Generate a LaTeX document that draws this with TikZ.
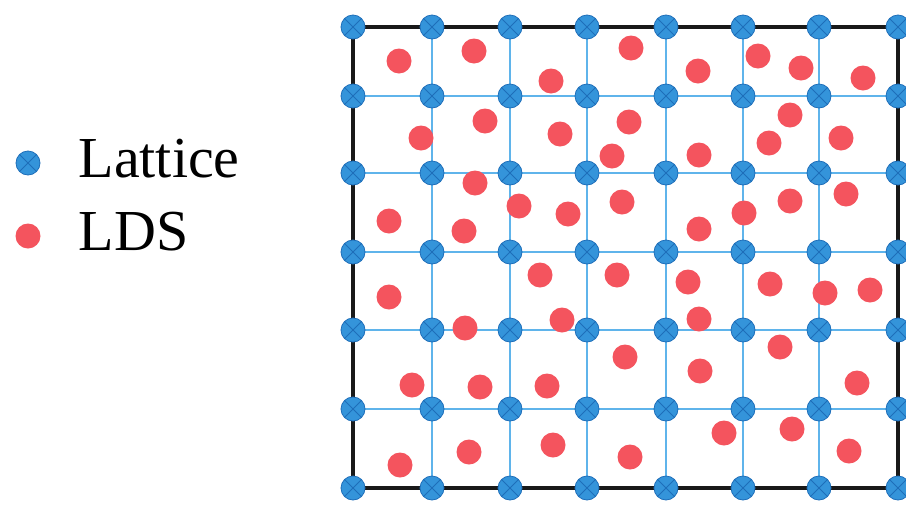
\documentclass[tikz,border=0pt]{standalone}
\usepackage{fontspec}
\setmainfont{Liberation Serif}
\usetikzlibrary{positioning, backgrounds}
\definecolor{latblue}{RGB}{52,148,218}
\definecolor{latedge}{RGB}{30,110,185}
\definecolor{gridblue}{RGB}{95,180,235}
\definecolor{ldsred}{RGB}{244,84,94}
\tikzset{
  latnode/.style={circle, minimum size=24pt, inner sep=0pt, fill=latblue,
    draw=latedge, line width=0.8pt,
    path picture={\draw[latedge, line width=0.9pt]
      (path picture bounding box.north west) -- (path picture bounding box.south east)
      (path picture bounding box.north east) -- (path picture bounding box.south west);}},
  ldsdot/.style={circle, minimum size=25pt, inner sep=0pt, fill=ldsred},
  gridline/.style={gridblue, line width=1.5pt},
  frameline/.style={black!90, line width=3.2pt},
  keytext/.style={font=\fontsize{58}{62}\selectfont, inner sep=0pt, yshift=4pt},
}
\begin{document}
\begin{tikzpicture}[x=1pt, y=-1pt]
  \useasboundingbox (0,0) rectangle (906,504);

  % lattice sites
  \foreach \x [count=\i] in {353,432,510,587,666,743,819,898}
    \foreach \y [count=\j] in {27,96,173,252,330,409,488}
      \node[latnode] (lat-\i-\j) at (\x,\y) {};

  % grid and frame behind the sites
  \begin{scope}[on background layer]
    \foreach \j in {2,...,6}
      \draw[gridline] (lat-1-\j) -- (lat-8-\j);
    \foreach \i in {2,...,7}
      \draw[gridline] (lat-\i-1) -- (lat-\i-7);
    \draw[frameline] (lat-1-1) -- (lat-8-1) -- (lat-8-7) -- (lat-1-7) -- (lat-1-1);
  \end{scope}

  % LDS points
  \foreach \x/\y [count=\k] in {399/61, 474/51, 551/81, 631/48, 698/71, 758/56, 801/68, 863/78,
      421/138, 485/121, 560/134, 629/122, 612/156, 699/155, 769/143, 790/115, 841/138,
      475/183, 389/221, 464/231, 519/206, 568/214, 622/202, 699/229, 744/213, 790/201, 846/194,
      389/297, 540/275, 562/320, 465/328, 617/275, 688/282, 699/319, 770/284, 825/293, 870/290,
      412/385, 480/387, 547/386, 625/357, 700/371, 780/347, 857/383,
      400/465, 469/452, 553/445, 630/457, 724/433, 792/429, 849/451}
    \node[ldsdot] (lds-\k) at (\x,\y) {};

  % legend
  \node[latnode] (keylat) at (28,163) {};
  \node[ldsdot] (keylds) at (28,236) {};
  \node[keytext, right=38pt of keylat] (keylattext) {Lattice};
  \node[keytext, right=38pt of keylds] (keyldstext) {LDS};
\end{tikzpicture}
\end{document}
